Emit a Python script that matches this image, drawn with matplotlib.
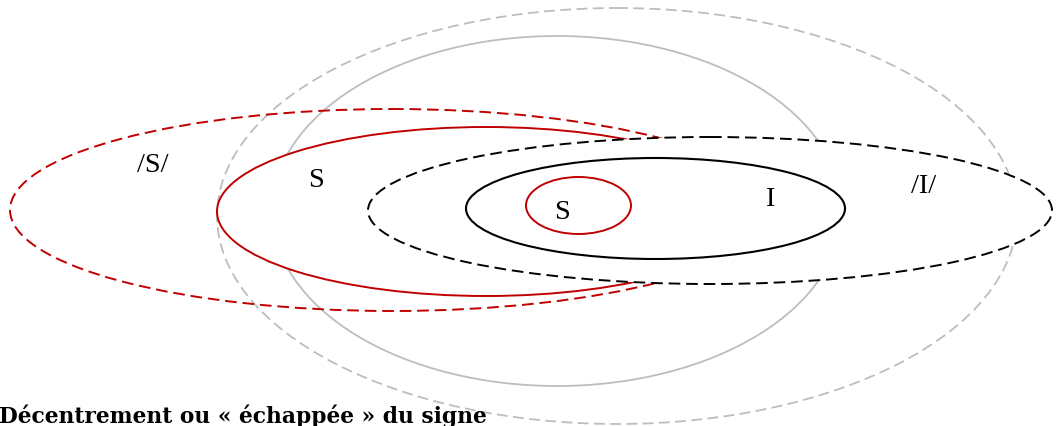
import matplotlib as mpl
import matplotlib.pyplot as plt
from matplotlib.patches import Ellipse

mpl.rcParams['font.family'] = ['Liberation Serif', 'DejaVu Serif']

# ellipses, drawn from back to front (pixel space of the original picture)
names = ['grey_outer', 'grey_inner', 'red_outer', 'red_inner', 'black_outer', 'black_inner', 'red_core']
cx = [617, 557, 392, 486, 710, 655.5, 578.5]
cy = [217, 212, 211, 212.5, 211.5, 209.5, 206.5]
w = [800, 570, 764, 538, 684, 379, 105]
h = [416, 350, 202, 169, 147, 101, 57]

labels = ['/S/', 'S', 'S', 'I', '/I/']
lab_x = [153, 316, 562, 770, 924]
lab_y = [166, 181, 213, 200, 187]

title = 'Décentrement ou « échappée » du signe'

grey = '#bdbdbd'
red = '#c00000'
styles = {
    'grey_outer': dict(ec=grey, ls=(0, (6, 3)), lw=1.3, fill=False),
    'grey_inner': dict(ec=grey, ls='-', lw=1.3, fill=False),
    'red_outer': dict(ec=red, ls=(0, (6, 3)), lw=1.4, fill=False),
    'red_inner': dict(ec=red, ls='-', lw=1.4, fc='white'),
    'black_outer': dict(ec='black', ls=(0, (6, 3)), lw=1.4, fc='white'),
    'black_inner': dict(ec='black', ls='-', lw=1.5, fill=False),
    'red_core': dict(ec=red, ls='-', lw=1.4, fill=False),
}

fig = plt.figure(figsize=(10.57, 4.27), dpi=100)
ax = fig.add_axes([0, 0, 1, 1])
ax.set_xlim(0, 1057)
ax.set_ylim(427, 0)
ax.axis('off')

for i, n in enumerate(names):
    ax.add_patch(Ellipse((cx[i], cy[i]), w[i], h[i], zorder=i + 1, **styles[n]))

for t, x, y in zip(labels, lab_x, lab_y):
    ax.text(x, y, t, fontsize=20.5, ha='center', va='center', zorder=10)

ax.text(-1, 423, title, fontsize=15.7, fontweight='bold', family=['DejaVu Serif'],
        ha='left', va='baseline', zorder=10)

fig.savefig('out.png', dpi=100)
